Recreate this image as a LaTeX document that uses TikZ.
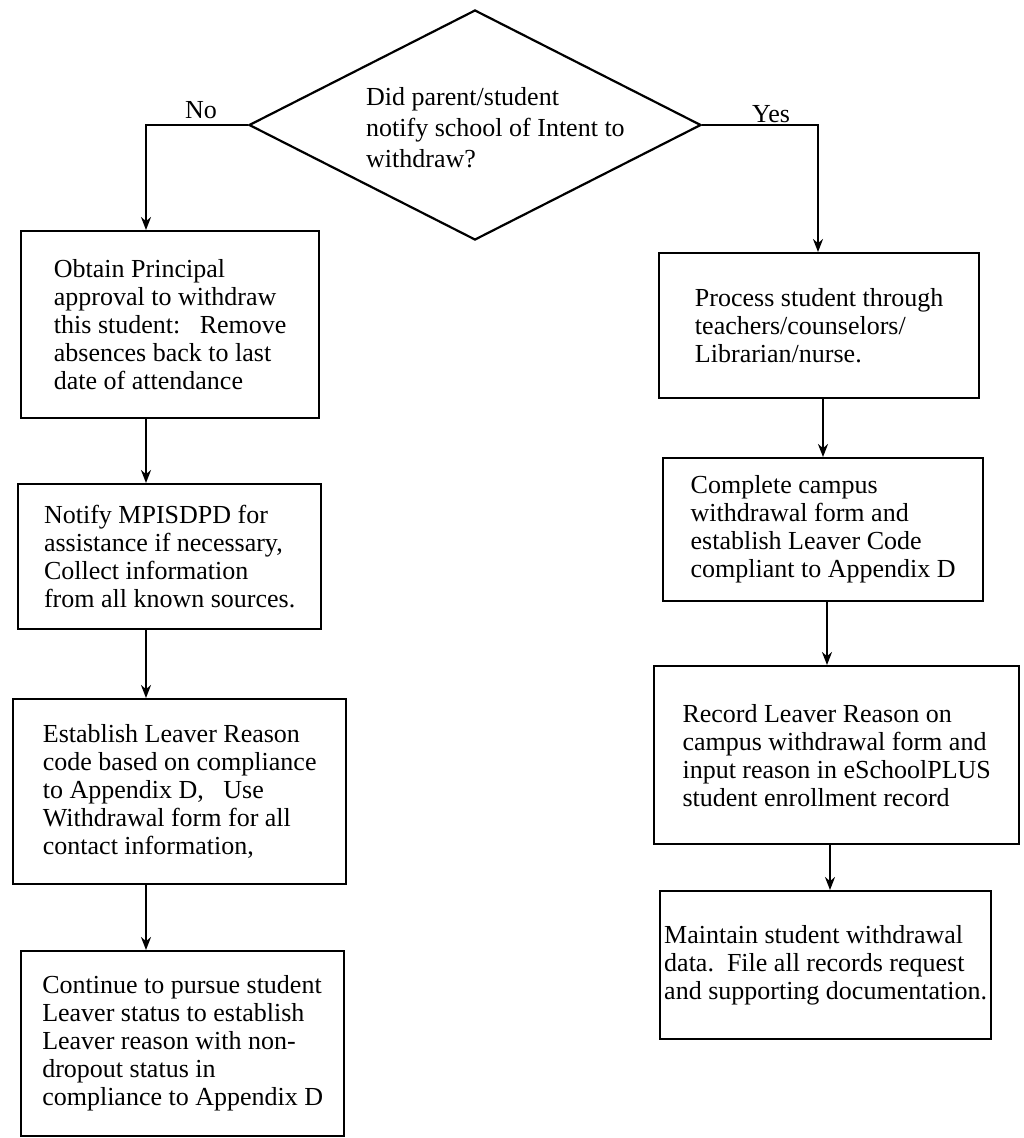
\documentclass[tikz,border=0pt]{standalone}
\usepackage{fontspec}
\setmainfont{Liberation Serif}
\usetikzlibrary{shapes.geometric,arrows.meta}
\begin{document}
\begin{tikzpicture}[x=1pt,y=-1pt,
  box/.style={draw, line width=2.4pt, anchor=north west, align=left, inner xsep=4pt, inner ysep=0pt, font=\fontsize{26}{28}\selectfont},
  lbl/.style={font=\fontsize{26}{28}\selectfont, inner sep=0pt},
  qtext/.style={font=\fontsize{26}{31}\selectfont, inner sep=0pt, align=left, anchor=west},
  arr/.style={line width=2.2pt, -{Stealth[length=13pt,width=10pt]}},
  dec/.style={draw, diamond, line width=2.2pt, minimum width=452pt, minimum height=230pt, inner sep=0pt}]
\useasboundingbox (0,0) rectangle (1023,1138);
% decision
\node[dec] (q) at (475,125) {};
\node[qtext] (qt) at (366,128) {Did parent/student\\notify school of Intent to\\withdraw?};
% coordinates for connector columns
\coordinate (lx) at (146,0);
\coordinate (rx) at (818,0);
\coordinate (rx1) at (823,0);
\coordinate (rx2) at (827,0);
\coordinate (rx3) at (830,0);
% left column
\node[box, minimum width=298pt, minimum height=187pt] (b1) at (20,230) {Obtain Principal\\approval to withdraw\\this student:\ \ \ Remove\\absences back to last\\date of attendance};
\node[box, minimum width=303pt, minimum height=145pt] (b2) at (17,483) {Notify MPISDPD for\\assistance if necessary,\\Collect information\\from all known sources.};
\node[box, minimum width=333pt, minimum height=185pt] (b3) at (12,698) {Establish Leaver Reason\\code based on compliance\\to Appendix D,\ \ \ Use\\Withdrawal form for all\\contact information,};
\node[box, minimum width=323pt, minimum height=185pt] (b4) at (20,950) {Continue to pursue student\\Leaver status to establish\\Leaver reason with non-\\dropout status in\\compliance to Appendix D};
% right column
\node[box, minimum width=320pt, minimum height=145pt] (r1) at (658,252) {Process student through\\teachers/counselors/\\Librarian/nurse.};
\node[box, minimum width=320pt, minimum height=143pt] (r2) at (662,457) {Complete campus\\withdrawal form and\\establish Leaver Code\\compliant to Appendix D};
\node[box, minimum width=365pt, minimum height=178pt] (r3) at (653,665) {Record Leaver Reason on\\campus withdrawal form and\\input reason in eSchoolPLUS\\student enrollment record};
\node[box, minimum width=329pt, minimum height=148pt] (r4) at (659,890) {Maintain student withdrawal\\data.\ \ File all records request\\and supporting documentation.};
% labels
\node[lbl] (no) at (201,110) {No};
\node[lbl] (yes) at (771,114) {Yes};
% connectors
\draw[arr] (q.west) -| (lx |- b1.north);
\draw[arr] (q.east) -| (rx |- r1.north);
\draw[arr] (b1.south -| lx) -- (b2.north -| lx);
\draw[arr] (b2.south -| lx) -- (b3.north -| lx);
\draw[arr] (b3.south -| lx) -- (b4.north -| lx);
\draw[arr] (r1.south -| rx1) -- (r2.north -| rx1);
\draw[arr] (r2.south -| rx2) -- (r3.north -| rx2);
\draw[arr] (r3.south -| rx3) -- (r4.north -| rx3);
\end{tikzpicture}
\end{document}
